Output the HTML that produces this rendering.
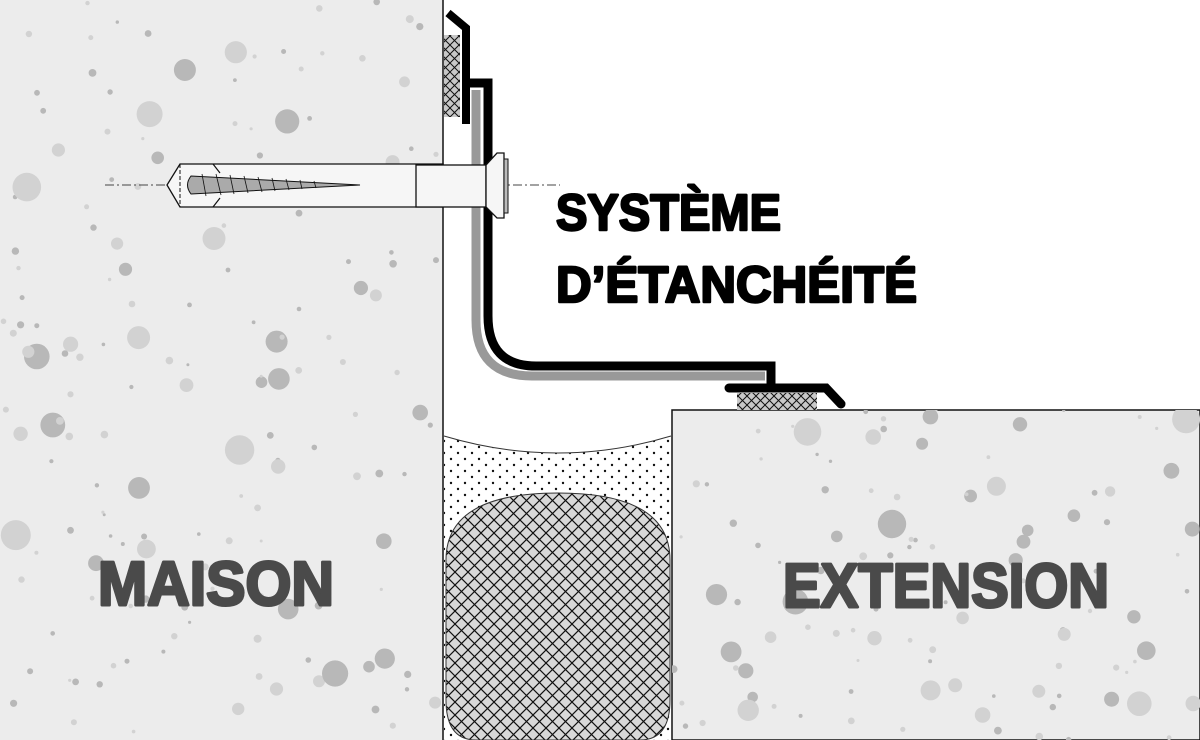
<!DOCTYPE html>
<html><head><meta charset="utf-8"><style>
html,body{margin:0;padding:0;background:#fff}
svg{display:block}
</style></head><body>
<svg id="s" width="1200" height="740" viewBox="0 0 1200 740" xmlns="http://www.w3.org/2000/svg">
<defs>
<pattern id="hatch" width="13" height="13" patternUnits="userSpaceOnUse">
<rect width="13" height="13" fill="#d8d8d8"/>
<path d="M0,0L13,13M13,0L0,13" stroke="#111" stroke-width="1.2"/>
</pattern>
<pattern id="hatch2" width="9" height="9" patternUnits="userSpaceOnUse">
<rect width="9" height="9" fill="#c8c8c8"/>
<path d="M0,0L9,9M9,0L0,9" stroke="#111" stroke-width="1"/>
</pattern>
<pattern id="dots" width="14" height="12" patternUnits="userSpaceOnUse">
<rect width="14" height="12" fill="#fff"/>
<circle cx="3" cy="3" r="1.2" fill="#111"/>
<circle cx="10" cy="9" r="1.2" fill="#111"/>
</pattern>
<clipPath id="cl"><rect x="0" y="0" width="443" height="740"/></clipPath>
<clipPath id="cr"><rect x="672" y="410" width="528" height="330"/></clipPath>
</defs>
<rect x="0" y="0" width="443" height="740" fill="#ececec"/>
<rect x="672" y="410" width="528" height="330" fill="#ececec" stroke="#111" stroke-width="1.5"/>
<line x1="443" y1="0" x2="443" y2="740" stroke="#111" stroke-width="1.5"/>
<g id="dl" clip-path="url(#cl)"></g>
<g id="dr" clip-path="url(#cr)"></g>

<path d="M444,436 Q558,470 671,436 L671,740 L444,740 Z" fill="url(#dots)"/>
<path d="M444,436 Q558,470 671,436" fill="none" stroke="#333" stroke-width="1"/>
<path d="M446,560 Q446,493 558,493 Q670,493 670,560 L670,700 Q670,740 640,740 L476,740 Q446,740 446,700 Z" fill="url(#hatch)" stroke="#333" stroke-width="1"/>

<rect x="444" y="35" width="16" height="82" fill="url(#hatch2)"/>
<rect x="737" y="393" width="80" height="17" fill="url(#hatch2)"/>

<path d="M476,90 L476,320 Q476,376 532,376 L765,376" fill="none" stroke="#999" stroke-width="9"/>
<path d="M448,13 L466,28 L466,124" fill="none" stroke="#000" stroke-width="8"/>
<path d="M466,83 L488,83 L488,316 Q488,366 536,366 L771,366 L771,388" fill="none" stroke="#000" stroke-width="9"/>
<path d="M729,388 L826,388 L841,404" fill="none" stroke="#000" stroke-width="9" stroke-linecap="round"/>

<line x1="105" y1="185" x2="560" y2="185" stroke="#444" stroke-width="1" stroke-dasharray="9,3,2,3"/>
<path d="M180,164 L443,164 L443,207 L180,207 L167,185 Z" fill="#f6f6f6" stroke="#111" stroke-width="1.3"/>
<path d="M220,173 L213,164 M220,198 L213,207" stroke="#111" stroke-width="1.2"/>
<line x1="180" y1="164" x2="180" y2="207" stroke="#111" stroke-width="1" stroke-dasharray="4,2"/>
<path d="M191,176 Q184,185 191,194 L360,185 Z" fill="#aaa" stroke="#111" stroke-width="1"/>
<g stroke="#111" stroke-width="0.8">
<line x1="202" y1="174" x2="206" y2="196"/><line x1="216" y1="174" x2="221" y2="195"/>
<line x1="230" y1="175" x2="234" y2="194"/><line x1="244" y1="176" x2="248" y2="193"/>
<line x1="258" y1="177" x2="262" y2="192"/><line x1="272" y1="178" x2="275" y2="191"/>
<line x1="286" y1="179" x2="289" y2="190"/><line x1="300" y1="180" x2="302" y2="189"/>
<line x1="314" y1="181" x2="316" y2="188"/>
</g>
<rect x="416" y="165" width="70" height="42" fill="#f6f6f6" stroke="#111" stroke-width="1.3"/>
<path d="M486,165 L497,153 L504,153 L504,218 L497,218 L486,207 Z" fill="#f6f6f6" stroke="#111" stroke-width="1.3"/>
<rect x="504" y="159" width="4" height="54" fill="#bbb" stroke="#111" stroke-width="1"/>

<g font-family="'Liberation Sans',sans-serif" font-weight="bold" stroke-linejoin="round">
<text x="556" y="230" font-size="51" textLength="225" lengthAdjust="spacingAndGlyphs" fill="#000" stroke="#000" stroke-width="2.5">SYSTÈME</text>
<text x="556" y="302" font-size="51" textLength="361" lengthAdjust="spacingAndGlyphs" fill="#000" stroke="#000" stroke-width="2.5">D’ÉTANCHÉITÉ</text>
<text x="98" y="605" font-size="62" textLength="236" lengthAdjust="spacingAndGlyphs" fill="#4a4a4a" stroke="#4a4a4a" stroke-width="3">MAISON</text>
<text x="783" y="607" font-size="62" textLength="326" lengthAdjust="spacingAndGlyphs" fill="#4a4a4a" stroke="#4a4a4a" stroke-width="3">EXTENSION</text>
</g>
</svg>
<script>
(function(){
var s=12345;function r(){s=(s*16807)%2147483647;return s/2147483647;}
var ns="http://www.w3.org/2000/svg";
function fill(g,x0,y0,w,h,n){
 for(var i=0;i<n;i++){
  var c=document.createElementNS(ns,"circle");
  var k=r();var rad=k<0.75?1.5+r()*2.5:(k<0.92?5+r()*3:9+r()*6);
  c.setAttribute("cx",(x0+r()*w).toFixed(1));
  c.setAttribute("cy",(y0+r()*h).toFixed(1));
  c.setAttribute("r",rad.toFixed(1));
  c.setAttribute("fill",r()<0.5?"#b8b8b8":"#d2d2d2");
  g.appendChild(c);
 }
}
fill(document.getElementById("dl"),0,0,443,740,170);
fill(document.getElementById("dr"),672,410,528,330,110);
})();
</script>
</body></html>
